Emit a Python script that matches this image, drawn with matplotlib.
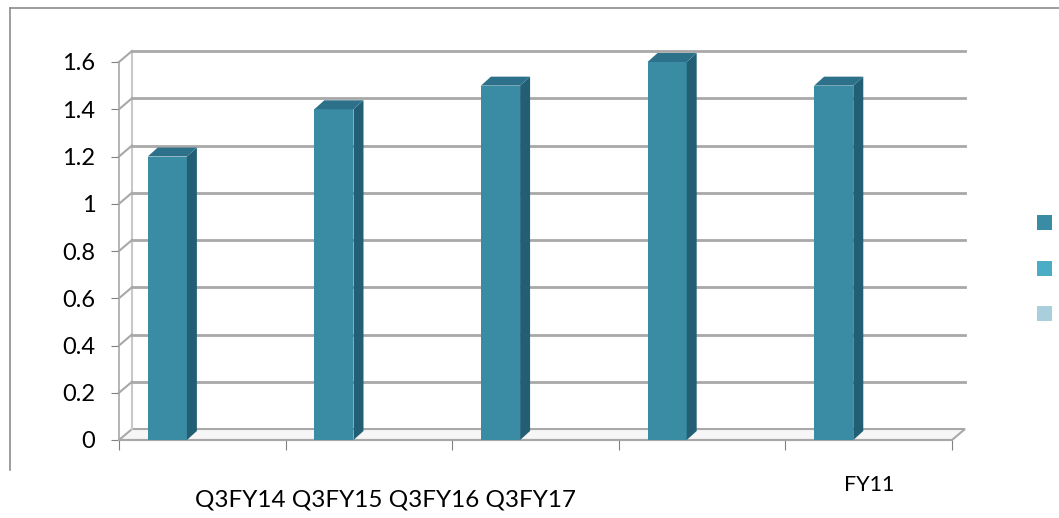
import numpy as np
import matplotlib.pyplot as plt
from matplotlib.patches import Polygon
from matplotlib.lines import Line2D
from matplotlib.transforms import blended_transform_factory

plt.rcParams['font.family'] = ['Lato', 'DejaVu Sans']

categories = ["Q3FY14", "Q3FY15", "Q3FY16", "Q3FY17", "FY11"]
values = [1.2, 1.4, 1.5, 1.6, 1.5]
yticks = [0, 0.2, 0.4, 0.6, 0.8, 1, 1.2, 1.4, 1.6]
ytick_labels = ["0", "0.2", "0.4", "0.6", "0.8", "1", "1.2", "1.4", "1.6"]
legend_colors = ["#3a8ca4", "#4bacc6", "#a9cfdd"]

front_col = "#3a8ca4"
side_col = "#235f74"
top_col = "#2c7189"
grid_col = "#a8a8a8"

fig = plt.figure(figsize=(10.59, 5.18), dpi=100)
ax = fig.add_axes([119 / 1059, 78 / 518, 833 / 1059, 378 / 518])
ax.set_xlim(-0.5, 4.5)
ax.set_ylim(0, 1.6)

# depth of the walls and of the bars, in data units
wdx, wdy = 0.078, 0.0465
bdx, bdy = 0.06, 0.038

# floor
floor = Polygon([(-0.5, 0), (4.5, 0), (4.5 + wdx, wdy), (-0.5 + wdx, wdy)],
                closed=True, facecolor="#f6f6f6", edgecolor=grid_col, lw=1.5,
                clip_on=False, zorder=1)
ax.add_patch(floor)

# side wall and back wall gridlines
ax.add_line(Line2D([-0.5 + wdx, -0.5 + wdx], [wdy, 1.6 + wdy], color="#c8c8c8",
                   lw=1.5, clip_on=False, zorder=1))
for t in yticks[1:]:
    ax.add_line(Line2D([-0.5, -0.5 + wdx], [t, t + wdy], color=grid_col, lw=1.5,
                       clip_on=False, zorder=1))
    ax.add_line(Line2D([-0.5 + wdx, 4.5 + wdx], [t + wdy, t + wdy], color=grid_col,
                       lw=2.0, clip_on=False, zorder=1))

# bars: front face plus side and top faces
x = np.arange(len(values)) - 0.21
w = 0.235
ax.bar(x, values, width=w, color=front_col, zorder=3)
for xi, v in zip(x, values):
    r, l = xi + w / 2, xi - w / 2
    ax.add_patch(Polygon([(r, 0), (r + bdx, bdy), (r + bdx, v + bdy), (r, v)],
                         closed=True, facecolor=side_col, edgecolor="none", zorder=3,
                         clip_on=False))
    ax.add_patch(Polygon([(l, v), (r, v), (r + bdx, v + bdy), (l + bdx, v + bdy)],
                         closed=True, facecolor=top_col, edgecolor="none", zorder=3,
                         clip_on=False))

for s in ["top", "right"]:
    ax.spines[s].set_visible(False)
ax.spines["left"].set_color(grid_col)
ax.spines["bottom"].set_color(grid_col)
ax.spines["left"].set_linewidth(1.2)
ax.spines["bottom"].set_linewidth(1.5)
ax.set_yticks(yticks)
ax.set_yticklabels(ytick_labels, fontsize=17)
ax.set_xticks(np.arange(-0.5, 5.0, 1.0))
ax.set_xticklabels([])
ax.tick_params(axis="y", length=6, color="#808080", pad=11)
ax.tick_params(axis="x", length=7, color="#808080", direction="out")

# category labels
tr = blended_transform_factory(ax.transData, ax.transAxes)
ax.text(1.1, -0.158, " ".join(categories[:4]), transform=tr, ha="center", va="center",
        fontsize=17.5)
ax.text(4.0, -0.118, categories[4], transform=tr, ha="center", va="center", fontsize=15.5)

# legend swatches
for i, c in enumerate(legend_colors):
    y0 = 1 - (230 + i * 45.5) / 518
    fig.patches.append(plt.Rectangle((1037 / 1059, y0), 15 / 1059, 15 / 518,
                                     transform=fig.transFigure, facecolor=c,
                                     edgecolor="none"))

# chart frame
fig.add_artist(Line2D([10 / 1059, 1.0], [1 - 8 / 518, 1 - 8 / 518],
                      transform=fig.transFigure, color="#8c8c8c", lw=1.2))
fig.add_artist(Line2D([10 / 1059, 10 / 1059], [1 - 8 / 518, 1 - 470 / 518],
                      transform=fig.transFigure, color="#8c8c8c", lw=1.2))

fig.savefig("out.png", dpi=100)
